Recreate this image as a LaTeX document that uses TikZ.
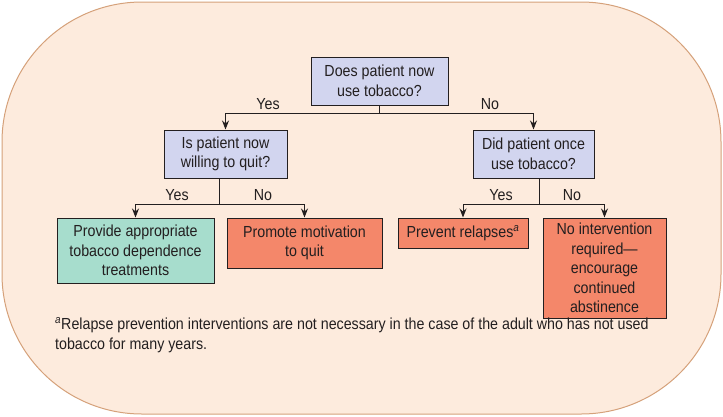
\documentclass[tikz,border=0pt]{standalone}
\usepackage{fontspec}
\setmainfont[FakeStretch=0.89]{Liberation Sans}
\usetikzlibrary{arrows.meta}
\definecolor{bgfill}{HTML}{FDEBDD}
\definecolor{bgline}{HTML}{D5A17A}
\definecolor{qfill}{HTML}{D2D5EF}
\definecolor{tealfill}{HTML}{A7DDCD}
\definecolor{redfill}{HTML}{F4876A}
\definecolor{ink}{HTML}{231F20}
\tikzset{
  box/.style={draw=ink, line width=1pt, inner sep=0pt, align=center, text=ink,
    font=\fontsize{16}{19.5}\selectfont},
  qbox/.style={box, fill=qfill},
  tbox/.style={box, fill=tealfill},
  rbox/.style={box, fill=redfill},
  conn/.style={draw=ink, line width=1pt, -{Stealth[length=9pt,width=7pt]}},
  lab/.style={text=ink, font=\fontsize{16}{18}\selectfont, inner sep=0pt}
}
\begin{document}
\begin{tikzpicture}[x=1pt,y=-1pt]
\useasboundingbox (0,0) rectangle (723,416);
\draw[fill=bgfill, draw=bgline, line width=1pt, rounded corners=140pt] (2,2) rectangle (721,414);
\node[qbox, minimum width=137pt, minimum height=48pt] (top) at (379.5,81) {Does patient now\\use tobacco?};
\node[qbox, minimum width=123pt, minimum height=48pt] (q1) at (225.5,154) {Is patient now\\willing to quit?};
\node[qbox, minimum width=121pt, minimum height=48pt] (q2) at (533.5,154) {Did patient once\\use tobacco?};
\node[tbox, minimum width=157pt, minimum height=65pt] (a1) at (135.5,250.5) {Provide appropriate\\tobacco dependence\\treatments};
\node[rbox, minimum width=155pt, minimum height=50pt] (a2) at (304.5,243) {Promote motivation\\to quit};
\node[rbox, minimum width=130pt, minimum height=30pt] (a3) at (463,233) {Prevent relapses\textsuperscript{\itshape a}};
\node[rbox, minimum width=123pt, minimum height=100pt] (a4) at (604.5,268) {No intervention\\required---\\encourage\\continued\\abstinence};
\coordinate (b0) at (379.5,113);
\draw[draw=ink, line width=1pt] (top.south) -- (b0);
\draw[conn] (b0) -| (q1.north);
\draw[conn] (b0) -| (q2.north);
\coordinate (b1) at (219,204);
\draw[draw=ink, line width=1pt] (q1.south -| b1) -- (b1);
\draw[conn] (b1) -| (a1.north);
\draw[conn] (b1) -| (a2.north);
\coordinate (b2) at (539,204);
\draw[draw=ink, line width=1pt] (q2.south -| b2) -- (b2);
\draw[conn] (b2) -| (a3.north);
\draw[conn] (b2) -| (a4.north);
\node[lab] (y0) at (268,104) {Yes};
\node[lab] (n0) at (490,104) {No};
\node[lab] (y1) at (177,195) {Yes};
\node[lab] (n1) at (263,195) {No};
\node[lab] (y2) at (501,195) {Yes};
\node[lab] (n2) at (572,195) {No};
\node[lab, anchor=north west, align=left, font=\fontsize{16}{20}\selectfont] (fn) at (55,317)
  {\textsuperscript{\itshape a}Relapse prevention interventions are not necessary in the case of the adult who has not used\\tobacco for many years.};
\end{tikzpicture}
\end{document}
